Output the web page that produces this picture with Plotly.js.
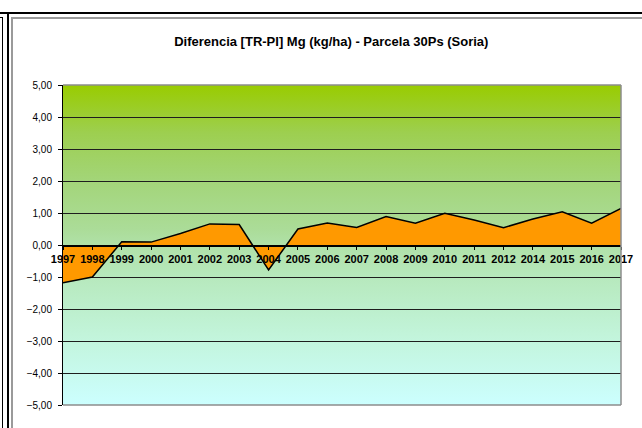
<!DOCTYPE html>
<html>
<head>
<meta charset="utf-8">
<script src="https://cdn.plot.ly/plotly-3.0.1.min.js"></script>
<style>
    html, body { margin: 0; padding: 0; background: #ffffff; }
    #wrap { position: relative; width: 642px; height: 428px; overflow: hidden; }
    #chart { position: absolute; left: 0; top: 0; width: 642px; height: 428px; }
    .ln { position: absolute; pointer-events: none; }
</style>
</head>
<body>
<div id="wrap">
    <div id="chart"></div>
    <!-- outer sheet frame lines -->
    <div class="ln" style="left:0;top:12px;width:642px;height:2px;background:#000;"></div>
    <div class="ln" style="left:7px;top:12px;width:2px;height:416px;background:#000;"></div>
    <div class="ln" style="left:2px;top:17px;width:1px;height:411px;background:#000;"></div>
    <div class="ln" style="left:0;top:17px;width:3px;height:1px;background:#000;"></div>
    <div class="ln" style="left:11px;top:17px;width:631px;height:2px;background:#9a9a9a;"></div>
    <div class="ln" style="left:11px;top:17px;width:2px;height:411px;background:#9a9a9a;"></div>
</div>
<script>
// Data
const years = ['1997', '1998', '1999', '2000', '2001', '2002', '2003', '2004', '2005', '2006',
               '2007', '2008', '2009', '2010', '2011', '2012', '2014', '2015', '2016', '2017'];
const diffMg = [-1.18, -1.00, 0.10, 0.09, 0.36, 0.66, 0.64, -0.78, 0.50, 0.69,
                0.55, 0.89, 0.68, 0.99, 0.78, 0.54, 0.81, 1.04, 0.68, 1.14];
const yTicks = [-5, -4, -3, -2, -1, 0, 1, 2, 3, 4, 5];

const fontFam = '"Liberation Sans", Arial, sans-serif';

// Plot background gradient (Excel style green -> light cyan)
const gradSvg =
    '<svg xmlns="http://www.w3.org/2000/svg" width="100" height="100" preserveAspectRatio="none">' +
    '<defs><linearGradient id="g" x1="0" y1="0" x2="0" y2="1">' +
    '<stop offset="0" stop-color="#99CC00"/>' +
    '<stop offset="0.15" stop-color="#9DCF50"/>' +
    '<stop offset="0.3" stop-color="#A3D579"/>' +
    '<stop offset="0.45" stop-color="#ABDC98"/>' +
    '<stop offset="0.5" stop-color="#B0E1A8"/>' +
    '<stop offset="0.62" stop-color="#B8EAC0"/>' +
    '<stop offset="0.78" stop-color="#C2F4DA"/>' +
    '<stop offset="1" stop-color="#CCFFFF"/>' +
    '</linearGradient></defs>' +
    '<rect x="0" y="0" width="100" height="100" fill="url(#g)"/></svg>';
const gradSrc = 'data:image/svg+xml;base64,' + btoa(gradSvg);

const trace = {
    x: years,
    y: diffMg,
    type: 'scatter',
    mode: 'lines',
    fill: 'tozeroy',
    fillcolor: '#FF9900',
    line: { color: '#000000', width: 1.5 },
    hoverinfo: 'x+y'
};

const borderGray = '#8c8c8c';

const layout = {
    width: 642,
    height: 428,
    margin: { l: 63, r: 21, t: 85, b: 23 },
    paper_bgcolor: 'rgba(0,0,0,0)',
    plot_bgcolor: 'rgba(0,0,0,0)',
    separators: ',.',
    showlegend: false,
    font: { family: fontFam, color: '#000000' },
    title: {
        text: '<b>Diferencia [TR-PI] Mg (kg/ha) - Parcela 30Ps (Soria)</b>',
        font: { family: fontFam, size: 13, color: '#000000' },
        x: 0.516,
        xanchor: 'center',
        y: 0.902,
        yanchor: 'middle'
    },
    xaxis: {
        type: 'category',
        range: [0, years.length - 1],
        anchor: 'free',
        position: 0.5,
        showgrid: false,
        zeroline: false,
        showline: true,
        linecolor: '#000000',
        linewidth: 1.5,
        ticks: 'outside',
        ticklen: 3,
        tickcolor: '#000000',
        tickfont: { family: fontFam, size: 11, color: '#000000', weight: 'bold' },
        fixedrange: true
    },
    yaxis: {
        range: [-5, 5],
        tickvals: yTicks,
        tickformat: '.2f',
        showgrid: true,
        gridcolor: '#1e1e1e',
        gridwidth: 1,
        zeroline: false,
        showline: true,
        linecolor: '#000000',
        linewidth: 1,
        ticks: 'outside',
        ticklen: 4,
        tickcolor: '#000000',
        ticklabelstandoff: 4,
        tickfont: { family: fontFam, size: 10, color: '#000000' },
        fixedrange: true
    },
    images: [{
        source: gradSrc,
        xref: 'paper', yref: 'paper',
        x: 0, y: 1, sizex: 1, sizey: 1,
        xanchor: 'left', yanchor: 'top',
        sizing: 'stretch',
        layer: 'below'
    }],
    shapes: [
        // gray plot-area border (top, right, bottom)
        { type: 'line', xref: 'paper', yref: 'paper', x0: 0, x1: 1, y0: 1, y1: 1, line: { color: borderGray, width: 1.5 } },
        { type: 'line', xref: 'paper', yref: 'paper', x0: 1, x1: 1, y0: 0, y1: 1, line: { color: borderGray, width: 1.5 } },
        { type: 'line', xref: 'paper', yref: 'paper', x0: 0, x1: 1, y0: 0, y1: 0, line: { color: borderGray, width: 1.5 } }
    ]
};

Plotly.newPlot('chart', [trace], layout, { displayModeBar: false, staticPlot: true });
</script>
</body>
</html>
